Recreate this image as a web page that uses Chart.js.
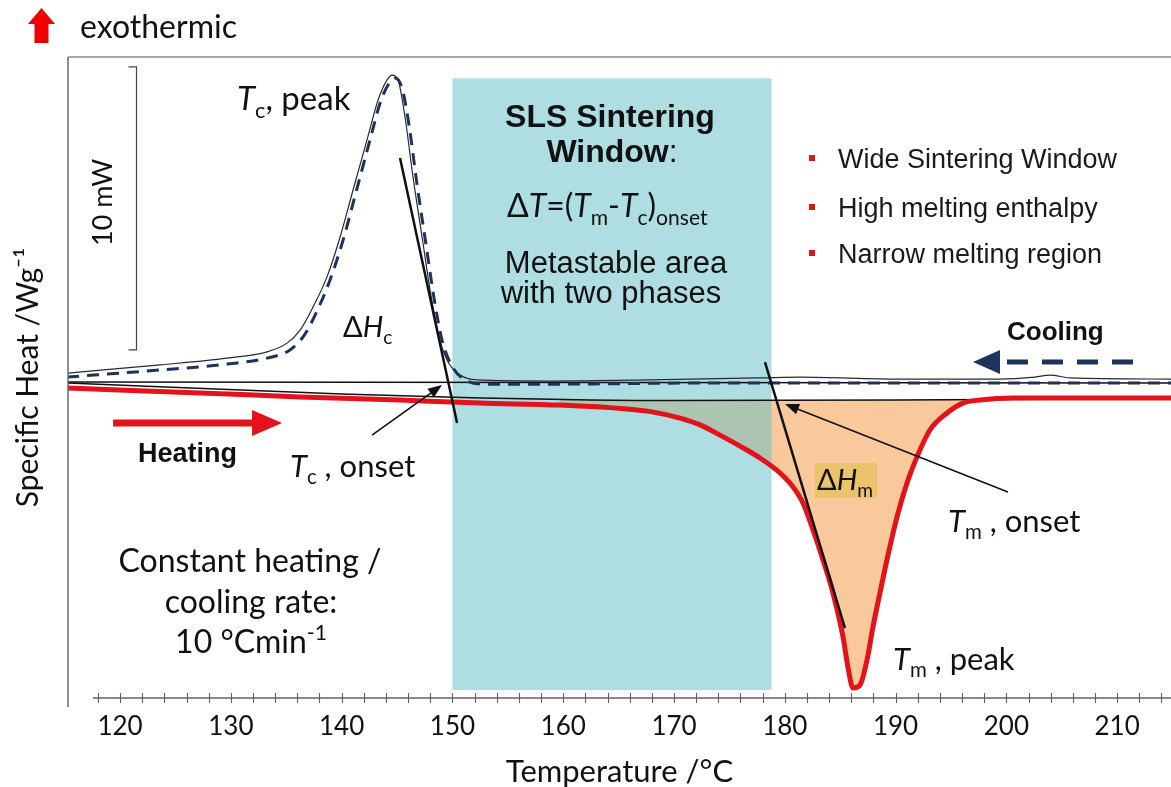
<!DOCTYPE html>
<html>
<head>
<meta charset="utf-8">
<script src="https://cdn.jsdelivr.net/npm/chart.js@4.4.1/dist/chart.umd.min.js"></script>
<style>
  html, body { margin: 0; padding: 0; background: #ffffff; }
  canvas { display: block; }
</style>
</head>
<body>
<canvas id="dsc" width="1171" height="787"></canvas>
<script>
// DSC traces of a laser-sintering powder: temperature in °C, heat flow in mW

// Heating run (endothermic melting peak)
const heatingTemp = [115.31, 127.22, 136.25, 145.27, 152.49, 159.71, 165.76, 168.01, 170.54, 172.35,
  174.15, 175.96, 177.76, 179.57, 180.74, 181.64, 182.55, 183.45, 184.35, 185.26, 185.70, 186.16,
  186.79, 187.42, 187.96, 188.59, 189.22, 190.13, 191.03, 191.93, 193.10, 194.64, 196.08, 197.62,
  200.60, 214.86];
const heatingFlow = [0.35, 0.18, 0.04, -0.07, -0.18, -0.25, -0.39, -0.49, -0.71, -0.95,
  -1.31, -1.70, -2.12, -2.65, -3.14, -3.71, -4.66, -5.72, -6.89, -8.45, -9.51, -10.25,
  -10.14, -9.26, -8.09, -6.89, -5.72, -4.20, -3.00, -2.08, -1.13, -0.53, -0.18, -0.07,
  0.00, 0.00];

// Cooling run, recorded trace (thin line)
const coolingRawTemp = [115.22, 123.61, 129.66, 133.27, 135.07, 136.25, 137.42, 138.68, 139.86, 141.03,
  142.29, 143.29, 144.10, 144.55, 145.09, 145.72, 146.44, 147.26, 147.98, 148.70, 149.51, 150.69,
  152.22, 158.81, 167.83, 177.76, 181.37, 190.40, 199.42, 202.58, 203.93, 205.74, 214.86];
const coolingRawFlow = [0.88, 1.17, 1.41, 1.63, 1.94, 2.40, 3.22, 4.28, 5.69, 7.35,
  9.12, 10.53, 11.24, 11.41, 11.24, 9.93, 7.81, 5.69, 3.82, 2.30, 1.34, 0.81,
  0.64, 0.60, 0.64, 0.71, 0.74, 0.67, 0.67, 0.74, 0.81, 0.71, 0.67];

// Cooling run, dashed trace
const coolingTemp = [115.22, 123.61, 129.66, 133.27, 135.34, 136.52, 137.69, 138.95, 140.13, 141.30,
  142.56, 143.56, 144.37, 144.82, 145.45, 146.08, 146.81, 147.62, 148.34, 149.06, 149.96, 151.14,
  152.94, 158.81, 172.35, 190.40, 214.86];
const coolingFlow = [0.74, 0.99, 1.20, 1.41, 1.70, 2.16, 3.00, 4.17, 5.58, 7.28,
  9.12, 10.53, 11.17, 11.31, 10.95, 9.65, 7.53, 5.41, 3.53, 2.05, 1.13, 0.64,
  0.49, 0.49, 0.53, 0.53, 0.53];

// Extrapolated baselines
const coolingBaseTemp = [115.3, 214.86];
const coolingBaseFlow = [0.57, 0.53];
const heatingBaseTemp = [115.3, 140.0, 152.5, 170.0, 190.0, 203.9];
const heatingBaseFlow = [0.53, 0.14, 0.00, -0.09, -0.07, -0.04];

// Onset tangents
const tcTangentTemp = [145.27, 150.42];
const tcTangentFlow = [8.48, -0.88];
const tmTangentTemp = [178.21, 185.43];
const tmTangentFlow = [1.27, -8.13];

// Sintering window (°C) between crystallisation onset and melting onset
const sinterWindow = [150.0, 178.8];

// Pointer arrows [temperature, heat flow] from label to onset point
const tcOnsetArrow = [[142.74, -1.31], [149.06, 0.46]];
const tmOnsetArrow = [[200.14, -3.32], [180.02, -0.21]];
const heatingArrow = [[119.37, -0.88], [134.62, -0.88]];
const coolingArrow = [[211.43, 1.27], [196.99, 1.27]];

// 10 mW scale bar
const scaleBarTemp = 121.44;
const scaleBarFlow = [1.70, 11.70];

// Axis ticks
const tickLabels = [120, 130, 140, 150, 160, 170, 180, 190, 200, 210];
const minorTickStep = 2;

const bulletItems = ['Wide Sintering Window', 'High melting enthalpy', 'Narrow melting region'];

const pts = (temps, flows) => temps.map((t, i) => ({ x: t, y: flows[i] }));

const SANS = 'Lato, "Open Sans", sans-serif';
const ARIAL = '"Liberation Sans", Arial, sans-serif';
const RED = '#e3121b';
const NAVY = '#1d335c';

function arrowHead(ctx, x1, y1, x2, y2, len, half, color) {
  const a = Math.atan2(y2 - y1, x2 - x1);
  const c = Math.cos(a), s = Math.sin(a);
  ctx.beginPath();
  ctx.moveTo(x2, y2);
  ctx.lineTo(x2 - len * c + half * s, y2 - len * s - half * c);
  ctx.lineTo(x2 - len * c - half * s, y2 - len * s + half * c);
  ctx.closePath();
  ctx.fillStyle = color;
  ctx.fill();
}

// Mixed-style text: parts are [text, kind], kind '' plain, 'i' italic, 'b' subscript, 'p' superscript, 'B' bold
function rich(ctx, x, y, parts, size, family, align) {
  const fontFor = k => {
    const small = (k === 'b' || k === 'p');
    const sz = small ? size * 0.66 : size;
    const st = k === 'i' ? 'italic ' : (k === 'B' ? 'bold ' : '');
    return st + sz + 'px ' + family;
  };
  let w = 0;
  for (const [t, k] of parts) { ctx.font = fontFor(k); w += ctx.measureText(t).width; }
  let cx = align === 'center' ? x - w / 2 : x;
  ctx.textAlign = 'left';
  ctx.textBaseline = 'alphabetic';
  for (const [t, k] of parts) {
    ctx.font = fontFor(k);
    const dy = k === 'b' ? size * 0.24 : (k === 'p' ? -size * 0.4 : 0);
    ctx.fillText(t, cx, y + dy);
    cx += ctx.measureText(t).width;
  }
}

const dscDecor = {
  id: 'dscDecor',
  afterDatasetDraw(chart, args) {
    // translucent window drawn over the enthalpy fill, below the traces
    if (args.index !== 0) return;
    const { ctx, scales: { x, y } } = chart;
    const x0 = x.getPixelForValue(sinterWindow[0]);
    const x1 = x.getPixelForValue(sinterWindow[1]);
    const yTop = y.getPixelForValue(11.3);
    const yBot = y.getPixelForValue(-10.32);
    ctx.save();
    ctx.fillStyle = 'rgba(104, 192, 200, 0.53)';
    ctx.fillRect(x0, yTop, x1 - x0, yBot - yTop);
    ctx.restore();
  },
  afterDatasetsDraw(chart) {
    const { ctx, chartArea: ca, scales: { x, y } } = chart;
    const X = v => x.getPixelForValue(v);
    const Y = v => y.getPixelForValue(v);
    ctx.save();

    // frame
    ctx.strokeStyle = '#8a8a8a';
    ctx.lineWidth = 1.5;
    ctx.beginPath();
    ctx.moveTo(ca.left, ca.top); ctx.lineTo(ca.right, ca.top);
    ctx.stroke();
    ctx.strokeStyle = '#6a6a6a';
    ctx.beginPath();
    ctx.moveTo(ca.left, ca.top); ctx.lineTo(ca.left, ca.bottom + 9);
    ctx.stroke();

    // temperature axis line with minor ticks
    const firstTick = tickLabels[0] - minorTickStep;
    ctx.strokeStyle = '#606060';
    ctx.lineWidth = 1.4;
    ctx.beginPath();
    ctx.moveTo(X(firstTick) - 5, ca.bottom); ctx.lineTo(ca.right, ca.bottom);
    ctx.stroke();
    ctx.lineWidth = 1.1;
    ctx.beginPath();
    for (let t = firstTick; X(t) <= ca.right; t += minorTickStep) {
      const px = Math.round(X(t)) + 0.5;
      ctx.moveTo(px, ca.bottom - 5); ctx.lineTo(px, ca.bottom + 5);
    }
    ctx.stroke();

    // 10 mW scale bar
    const sbx = Math.round(X(scaleBarTemp)) + 0.5;
    ctx.strokeStyle = '#444';
    ctx.lineWidth = 1.2;
    ctx.beginPath();
    ctx.moveTo(sbx - 8, Y(scaleBarFlow[1])); ctx.lineTo(sbx, Y(scaleBarFlow[1]));
    ctx.lineTo(sbx, Y(scaleBarFlow[0])); ctx.lineTo(sbx - 8, Y(scaleBarFlow[0]));
    ctx.stroke();
    ctx.save();
    ctx.translate(sbx - 33, (Y(scaleBarFlow[0]) + Y(scaleBarFlow[1])) / 2 - 6);
    ctx.rotate(-Math.PI / 2);
    ctx.fillStyle = '#111';
    ctx.font = '27px ' + SANS;
    ctx.textAlign = 'center';
    ctx.textBaseline = 'middle';
    ctx.fillText('10 mW', 0, 0);
    ctx.restore();

    // onset pointer arrows
    ctx.strokeStyle = '#111';
    ctx.lineWidth = 1.6;
    for (const arr of [tcOnsetArrow, tmOnsetArrow]) {
      const ax = X(arr[0][0]), ay = Y(arr[0][1]), bx = X(arr[1][0]), by = Y(arr[1][1]);
      const a = Math.atan2(by - ay, bx - ax);
      ctx.beginPath();
      ctx.moveTo(ax, ay); ctx.lineTo(bx - 10 * Math.cos(a), by - 10 * Math.sin(a));
      ctx.stroke();
      arrowHead(ctx, ax, ay, bx, by, 14, 5.5, '#111');
    }

    // heating direction arrow
    {
      const ax = X(heatingArrow[0][0]), bx = X(heatingArrow[1][0]), hy = Y(heatingArrow[0][1]);
      ctx.strokeStyle = RED;
      ctx.lineWidth = 7;
      ctx.beginPath();
      ctx.moveTo(ax, hy); ctx.lineTo(bx - 26, hy);
      ctx.stroke();
      arrowHead(ctx, ax, hy, bx, hy, 30, 13, RED);
    }

    // cooling direction arrow (dashed)
    {
      const ax = X(coolingArrow[0][0]), bx = X(coolingArrow[1][0]), cy = Y(coolingArrow[0][1]);
      ctx.strokeStyle = NAVY;
      ctx.lineWidth = 5;
      ctx.setLineDash([21, 14]);
      ctx.beginPath();
      ctx.moveTo(ax, cy); ctx.lineTo(bx + 30, cy);
      ctx.stroke();
      ctx.setLineDash([]);
      arrowHead(ctx, ax, cy, bx, cy, 27, 12, NAVY);
    }

    // enthalpy label highlight
    ctx.fillStyle = '#ebc36c';
    ctx.fillRect(815, 463, 62, 35);

    // exothermic marker
    ctx.fillStyle = '#f00000';
    ctx.beginPath();
    ctx.moveTo(41.5, 8); ctx.lineTo(55, 24); ctx.lineTo(48.5, 24); ctx.lineTo(48.5, 43);
    ctx.lineTo(34.5, 43); ctx.lineTo(34.5, 24); ctx.lineTo(28, 24); ctx.closePath();
    ctx.fill();
    ctx.fillStyle = '#111';
    rich(ctx, 80, 38, [['exothermic', '']], 32, SANS);

    // peak / onset labels
    rich(ctx, 237, 110, [['T', 'i'], ['c', 'b'], [', peak', '']], 33, SANS);
    rich(ctx, 343, 337, [['Δ', ''], ['H', 'i'], ['c', 'b']], 29, SANS);
    rich(ctx, 290, 477, [['T', 'i'], ['c', 'b'], [' , onset', '']], 31, SANS);
    rich(ctx, 817, 490, [['Δ', ''], ['H', 'i'], ['m', 'b']], 29, SANS);
    rich(ctx, 948, 532, [['T', 'i'], ['m', 'b'], [' , onset', '']], 31, SANS);
    rich(ctx, 893, 670, [['T', 'i'], ['m', 'b'], [' , peak', '']], 31, SANS);

    // heating rate note
    rich(ctx, 250, 572, [['Constant heating /', '']], 32, SANS, 'center');
    rich(ctx, 251, 613, [['cooling rate:', '']], 32, SANS, 'center');
    rich(ctx, 251, 653, [['10 °Cmin', ''], ['-1', 'p']], 32, SANS, 'center');

    // sintering window caption
    rich(ctx, 610, 127, [['SLS Sintering', 'B']], 32, ARIAL, 'center');
    rich(ctx, 612, 162, [['Window', 'B'], [':', '']], 32, ARIAL, 'center');
    rich(ctx, 507, 217, [['Δ', ''], ['T', 'i'], ['=(', ''], ['T', 'i'], ['m', 'b'], ['-', ''], ['T', 'i'], ['c', 'b'], [')', ''], ['onset', 'b']], 32, SANS);
    rich(ctx, 616, 273, [['Metastable area', '']], 31, ARIAL, 'center');
    rich(ctx, 611, 303, [['with two phases', '']], 31, ARIAL, 'center');

    // property bullets
    const bulletY = [168, 217, 263];
    bulletItems.forEach((txt, i) => {
      ctx.fillStyle = '#d91a1a';
      ctx.fillRect(809, bulletY[i] - 13, 6, 6);
      ctx.fillStyle = '#1a1a1a';
      rich(ctx, 838, bulletY[i], [[txt, '']], 27, ARIAL);
    });

    // direction captions
    ctx.fillStyle = '#111';
    rich(ctx, 1007, 340, [['Cooling', 'B']], 26, ARIAL);
    rich(ctx, 138, 462, [['Heating', 'B']], 27, ARIAL);

    ctx.restore();
  }
};

const heatPts = pts(heatingTemp, heatingFlow);

new Chart(document.getElementById('dsc'), {
  type: 'line',
  data: {
    datasets: [
      { // melting enthalpy area between heating trace and its baseline
        data: heatPts.filter(p => p.x >= 159 && p.x <= 198),
        borderWidth: 0, backgroundColor: '#f9c99c',
        fill: 1, order: 10
      },
      { data: pts(heatingBaseTemp, heatingBaseFlow), borderColor: '#111', borderWidth: 1.5, order: 6 },
      { data: pts(coolingBaseTemp, coolingBaseFlow), borderColor: '#111', borderWidth: 1.5, order: 6 },
      { data: pts(coolingRawTemp, coolingRawFlow), borderColor: '#2a2a2a', borderWidth: 1.2, order: 5 },
      { data: pts(coolingTemp, coolingFlow), borderColor: NAVY, borderWidth: 3, borderDash: [12, 8], order: 4 },
      { data: heatPts, borderColor: RED, borderWidth: 5, order: 3 },
      { data: pts(tcTangentTemp, tcTangentFlow), borderColor: '#111', borderWidth: 2.5, order: 1 },
      { data: pts(tmTangentTemp, tmTangentFlow), borderColor: '#111', borderWidth: 2.5, order: 1 }
    ]
  },
  options: {
    responsive: false,
    animation: false,
    devicePixelRatio: 1,
    layout: { padding: { left: 0, top: 57, right: 0, bottom: 0 } },
    elements: {
      point: { radius: 0, hoverRadius: 0 },
      line: { cubicInterpolationMode: 'monotone', fill: false, borderCapStyle: 'butt' }
    },
    plugins: {
      legend: { display: false },
      tooltip: { enabled: false },
      filler: { propagate: false }
    },
    scales: {
      x: {
        type: 'linear',
        min: 115.3,
        max: 214.86,
        afterBuildTicks: axis => { axis.ticks = tickLabels.map(v => ({ value: v })); },
        ticks: {
          autoSkip: false, maxRotation: 0, padding: 16, color: '#111',
          font: { family: '"Liberation Sans Narrow", ' + SANS, size: 26, lineHeight: 1.0 }
        },
        grid: { display: false, drawTicks: false },
        border: { display: false },
        title: {
          display: true, text: 'Temperature /°C', color: '#111',
          font: { family: SANS, size: 31, lineHeight: 1.0 },
          padding: { top: 0, bottom: 0 }
        }
      },
      y: {
        type: 'linear',
        min: -10.6,
        max: 12.05,
        ticks: { display: false },
        grid: { display: false, drawTicks: false },
        border: { display: false },
        title: {
          display: true, text: 'Specific Heat /Wg⁻¹', color: '#111',
          font: { family: SANS, size: 30, lineHeight: 1.0 },
          padding: { top: 13, bottom: 25 }
        }
      }
    }
  },
  plugins: [dscDecor]
});
</script>
</body>
</html>
